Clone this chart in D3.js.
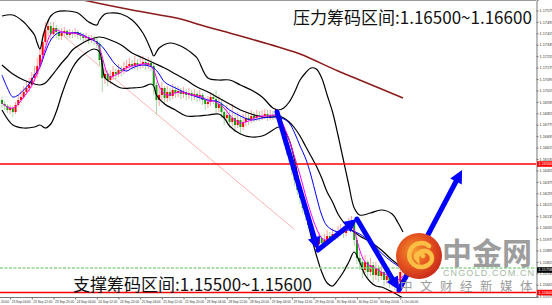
<!DOCTYPE html>
<html><head><meta charset="utf-8">
<script src="https://cdn.jsdelivr.net/npm/d3@7/dist/d3.min.js"></script>
<style>html,body{margin:0;padding:0;background:#fff;overflow:hidden}svg{display:block}</style>
</head><body>
<svg id="chart" width="552" height="305"></svg>
<script>
// ---------- DATA ----------
const firstOpen = 1.16948;
const closes = [
1.16920,1.16906,1.16878,1.16892,1.16864,1.16913,1.16948,1.16969,1.17004,1.17032,
1.17053,1.17102,1.17130,1.17186,1.17263,1.17354,1.17438,1.17466,1.17410,1.17452,
1.17424,1.17396,1.17417,1.17431,1.17403,1.17417,1.17410,1.17424,1.17403,1.17396,
1.17382,1.17389,1.17368,1.17375,1.17361,1.17340,1.17228,1.17102,1.17130,1.17088,
1.17116,1.17144,1.17130,1.17158,1.17151,1.17172,1.17186,1.17200,1.17186,1.17207,
1.17193,1.17200,1.17214,1.17193,1.17207,1.17186,1.17053,1.16948,1.16983,1.17032,
1.16962,1.17004,1.16976,1.17018,1.16997,1.17011,1.16990,1.17004,1.16983,1.16997,
1.16976,1.16990,1.16969,1.16983,1.16948,1.16920,1.16934,1.16969,1.16955,1.16892,
1.16920,1.16864,1.16822,1.16843,1.16794,1.16822,1.16773,1.16808,1.16759,1.16794,
1.16822,1.16808,1.16836,1.16822,1.16843,1.16829,1.16836,1.16850,1.16829,1.16843,
1.16836,1.16850,1.16822,1.16752,1.16668,1.16598,1.16542,1.16458,1.16388,1.16318,
1.16262,1.16192,1.16143,1.16073,1.16017,1.15968,1.15940,1.15982,1.15947,1.15968,
1.15996,1.15982,1.16010,1.15996,1.16024,1.16038,1.16017,1.16059,1.16080,1.16094,
1.15968,1.15842,1.15814,1.15758,1.15814,1.15744,1.15793,1.15723,1.15772,1.15716,
1.15744,1.15688,1.15716,1.15667,1.15688,1.15646,1.15674,1.15744,1.15758];
const highs = [
1.16969,1.16941,1.16920,1.16913,1.16906,1.16934,1.16983,1.17018,1.17046,1.17074,
1.17102,1.17144,1.17186,1.17242,1.17312,1.17410,1.17494,1.17508,1.17494,1.17494,
1.17473,1.17452,1.17452,1.17459,1.17445,1.17445,1.17438,1.17452,1.17438,1.17424,
1.17417,1.17417,1.17403,1.17403,1.17396,1.17382,1.17354,1.17242,1.17172,1.17158,
1.17158,1.17186,1.17172,1.17200,1.17186,1.17214,1.17228,1.17242,1.17228,1.17256,
1.17235,1.17242,1.17256,1.17242,1.17249,1.17235,1.17214,1.17074,1.17046,1.17074,
1.17046,1.17046,1.17032,1.17060,1.17046,1.17046,1.17032,1.17039,1.17025,1.17032,
1.17018,1.17025,1.17011,1.17018,1.16997,1.16969,1.16976,1.17004,1.16997,1.17018,
1.16983,1.16948,1.16892,1.16913,1.16878,1.16920,1.16864,1.16864,1.16843,1.16850,
1.16864,1.16857,1.16878,1.16864,1.16878,1.16871,1.16878,1.16885,1.16878,1.16878,
1.16871,1.16892,1.16878,1.16843,1.16766,1.16682,1.16612,1.16556,1.16472,1.16402,
1.16332,1.16276,1.16213,1.16157,1.16087,1.16038,1.15996,1.16024,1.16003,1.16010,
1.16038,1.16024,1.16052,1.16038,1.16066,1.16080,1.16066,1.16094,1.16122,1.16136,
1.16108,1.15982,1.15884,1.15842,1.15863,1.15828,1.15842,1.15814,1.15814,1.15793,
1.15786,1.15758,1.15758,1.15744,1.15730,1.15716,1.15716,1.15772,1.15800];
const lows = [
1.16892,1.16878,1.16857,1.16850,1.16829,1.16850,1.16899,1.16927,1.16955,1.16983,
1.17004,1.17032,1.17074,1.17102,1.17158,1.17242,1.17333,1.17396,1.17368,1.17382,
1.17382,1.17368,1.17368,1.17389,1.17375,1.17382,1.17382,1.17389,1.17375,1.17368,
1.17354,1.17361,1.17340,1.17347,1.17333,1.17312,1.17186,1.17004,1.17060,1.17046,
1.17060,1.17088,1.17095,1.17109,1.17116,1.17130,1.17144,1.17158,1.17158,1.17165,
1.17158,1.17165,1.17172,1.17158,1.17165,1.17151,1.16983,1.16843,1.16906,1.16948,
1.16920,1.16934,1.16941,1.16955,1.16962,1.16969,1.16955,1.16962,1.16948,1.16955,
1.16941,1.16948,1.16934,1.16941,1.16913,1.16878,1.16892,1.16906,1.16920,1.16857,
1.16864,1.16822,1.16773,1.16794,1.16752,1.16766,1.16724,1.16752,1.16710,1.16738,
1.16766,1.16773,1.16787,1.16794,1.16801,1.16801,1.16808,1.16815,1.16801,1.16808,
1.16808,1.16815,1.16794,1.16724,1.16633,1.16563,1.16500,1.16423,1.16346,1.16283,
1.16220,1.16157,1.16108,1.16038,1.15982,1.15926,1.15898,1.15919,1.15912,1.15926,
1.15940,1.15947,1.15961,1.15968,1.15975,1.15996,1.15982,1.15996,1.16038,1.16052,
1.15926,1.15800,1.15758,1.15702,1.15737,1.15702,1.15716,1.15674,1.15688,1.15674,
1.15688,1.15646,1.15660,1.15632,1.15639,1.15618,1.15611,1.15653,1.15716];

// indicator lines: [bar index, price]
const bbUpper = [[0,1.17536],[4,1.17543],[8,1.17494],[10,1.17452],[12,1.17403],[13,1.17347],[14,1.17305],[15,1.17382],[16,1.17452],[18,1.17536],[20,1.17564],[24,1.17571],[28,1.17557],[32,1.17494],[35,1.17473],[36,1.17508],[38,1.17550],[40,1.17557],[44,1.17550],[48,1.17508],[52,1.17417],[55,1.17298],[56,1.17256],[58,1.17312],[62,1.17347],[66,1.17326],[70,1.17277],[72,1.17242],[76,1.17102],[80,1.17088],[84,1.17088],[88,1.17053],[92,1.17018],[96,1.16969],[100,1.16892],[102,1.16878],[104,1.16892],[106,1.16934],[108,1.17004],[110,1.17088],[112,1.17137],[114,1.17172],[116,1.17165],[118,1.17102],[120,1.16983],[122,1.16864],[124,1.16703],[126,1.16528],[128,1.16353],[130,1.16192],[132,1.16143],[136,1.16157],[140,1.16178],[144,1.16150],[146,1.16094],[148,1.16024]];
const bbMiddle = [[0,1.17193],[4,1.17130],[8,1.17088],[12,1.17060],[14,1.17053],[16,1.17067],[18,1.17109],[20,1.17158],[22,1.17207],[24,1.17249],[26,1.17298],[28,1.17326],[32,1.17368],[36,1.17389],[40,1.17368],[44,1.17333],[48,1.17277],[52,1.17242],[56,1.17207],[60,1.17172],[64,1.17130],[68,1.17088],[72,1.17039],[76,1.17004],[80,1.16962],[84,1.16920],[88,1.16878],[92,1.16850],[96,1.16829],[100,1.16829],[102,1.16836],[104,1.16822],[106,1.16794],[108,1.16752],[110,1.16696],[112,1.16626],[114,1.16556],[116,1.16486],[118,1.16402],[120,1.16304],[122,1.16234],[124,1.16150],[126,1.16094],[128,1.16052],[130,1.16024],[132,1.15996],[136,1.15954],[140,1.15898],[144,1.15828],[148,1.15772]];
const bbLower = [[0,1.16878],[4,1.16773],[8,1.16752],[12,1.16759],[14,1.16773],[16,1.16752],[18,1.16780],[20,1.16864],[22,1.16983],[24,1.17088],[26,1.17172],[28,1.17228],[31,1.17277],[34,1.17305],[36,1.17284],[37,1.17193],[38,1.17102],[40,1.17074],[44,1.17032],[48,1.17032],[52,1.17039],[55,1.17060],[56,1.17046],[57,1.16983],[60,1.16920],[64,1.16878],[68,1.16836],[72,1.16836],[76,1.16843],[80,1.16850],[82,1.16822],[84,1.16766],[88,1.16710],[92,1.16689],[96,1.16696],[100,1.16738],[102,1.16759],[104,1.16738],[106,1.16668],[108,1.16528],[110,1.16332],[112,1.16164],[114,1.16003],[116,1.15863],[118,1.15744],[120,1.15667],[122,1.15646],[124,1.15688],[126,1.15744],[128,1.15814],[130,1.15884],[132,1.15814],[134,1.15723],[136,1.15674],[138,1.15646],[140,1.15639],[144,1.15604],[148,1.15562]];
const maBlue = [[0,1.17123],[2,1.17032],[4,1.16969],[6,1.16983],[8,1.17018],[10,1.17060],[12,1.17123],[14,1.17179],[16,1.17284],[18,1.17368],[20,1.17410],[22,1.17424],[24,1.17417],[28,1.17417],[32,1.17382],[36,1.17340],[38,1.17298],[40,1.17242],[42,1.17193],[44,1.17165],[46,1.17151],[48,1.17172],[52,1.17193],[56,1.17172],[58,1.17130],[60,1.17074],[64,1.17032],[68,1.16997],[72,1.16969],[76,1.16948],[80,1.16934],[84,1.16878],[88,1.16836],[92,1.16808],[96,1.16822],[100,1.16829],[102,1.16829],[104,1.16815],[106,1.16787],[108,1.16717],[110,1.16626],[112,1.16542],[114,1.16423],[116,1.16276],[118,1.16143],[120,1.16066],[124,1.16024],[128,1.16038],[132,1.16010],[136,1.15954],[140,1.15877],[144,1.15814],[148,1.15765]];
const maMagenta = [[0,1.16927],[2,1.16899],[4,1.16892],[6,1.16920],[8,1.16969],[10,1.17018],[12,1.17088],[14,1.17186],[16,1.17312],[18,1.17410],[20,1.17438],[22,1.17424],[24,1.17417],[26,1.17417],[28,1.17410],[30,1.17396],[32,1.17382],[34,1.17368],[36,1.17312],[37,1.17249],[38,1.17179],[39,1.17130],[40,1.17109],[42,1.17123],[44,1.17144],[46,1.17172],[48,1.17186],[50,1.17193],[52,1.17200],[54,1.17200],[56,1.17158],[57,1.17102],[58,1.17046],[60,1.16990],[62,1.16983],[64,1.16997],[66,1.17004],[68,1.16997],[70,1.16983],[72,1.16976],[74,1.16969],[76,1.16941],[78,1.16941],[80,1.16920],[82,1.16892],[84,1.16843],[86,1.16808],[88,1.16787],[90,1.16794],[92,1.16808],[94,1.16829],[96,1.16836],[98,1.16836],[100,1.16843],[102,1.16836],[104,1.16766],[106,1.16668],[108,1.16549],[110,1.16423],[112,1.16283],[114,1.16157],[116,1.16052],[118,1.15982],[120,1.15968],[122,1.15982],[124,1.16003],[126,1.16024],[128,1.16052],[129,1.16066],[130,1.16038],[131,1.15968],[132,1.15898],[134,1.15814],[136,1.15786],[138,1.15772],[140,1.15744],[142,1.15723],[144,1.15702],[146,1.15688],[148,1.15716]];
const maLong = [[0,1.17774],[16,1.17711],[30,1.17648],[48,1.17578],[66,1.17515],[72,1.17480],[88,1.17396],[102,1.17319],[110,1.17270],[124,1.17151],[132,1.17088],[148,1.16962]];
const trendLine = [[23,1.17392],[108,1.16041]];
const arrowPath = [[101.5,1.16864],[116.6,1.15898],[131.0,1.16115],[146.5,1.15618],[169.8,1.16458]];
const levels = [1.16500, 1.15600];
const askPrice = 1.15772;
const bidPrice = 1.15758;
const yTicks = [1.17575,1.17495,1.17415,1.17335,1.17255,1.17175,1.17095,1.17015,1.16935,1.16855,1.16775,1.16695,1.16615,1.16535,1.16455,1.16375,1.16295,1.16215,1.16135,1.16055,1.15975,1.15895,1.15815,1.15735,1.15655,1.15575];
const timeIdx = [-5,3,11,19,27,35,43,51,59,67,75,83,91,99,107,115,123,131,139,147];
const timeLabels = ["22 Sep 20:00","23 Sep 04:00","23 Sep 12:00","23 Sep 20:00","24 Sep 04:00","24 Sep 12:00","24 Sep 20:00","25 Sep 04:00","25 Sep 12:00","25 Sep 20:00","28 Sep 04:00","28 Sep 12:00","28 Sep 20:00","29 Sep 04:00","29 Sep 12:00","29 Sep 20:00","30 Sep 04:00","30 Sep 12:00","30 Sep 20:00","1 Oct 04:00"];
const topText = "压力筹码区间:1.16500~1.16600";
const bottomText = "支撑筹码区间:1.15500~1.15600";

// ---------- DRAW ----------
const svg = d3.select('#chart');
const PR = 536, PB = 297;
const x = d3.scaleLinear().domain([0,148]).range([2,403]);
const y = d3.scaleLinear().domain([1.17648,1.15569]).range([0,297]);
const CJK = '"Noto Sans CJK SC","Noto Sans",sans-serif';

const defs = svg.append('defs');
defs.append('clipPath').attr('id','plot').append('rect').attr('x',0).attr('y',0).attr('width',PR).attr('height',PB);
const grad = defs.append('radialGradient').attr('id','lg').attr('cx','40%').attr('cy','40%').attr('r','65%');
grad.append('stop').attr('offset','0%').attr('stop-color','#f59a2e');
grad.append('stop').attr('offset','55%').attr('stop-color','#e4531f');
grad.append('stop').attr('offset','100%').attr('stop-color','#c8281a');

const g = svg.append('g').attr('clip-path','url(#plot)');
const line = d3.line().x(d=>x(d[0])).y(d=>y(d[1])).curve(d3.curveCatmullRom.alpha(0.5));

// trend line (pale red)
g.append('path').datum(trendLine).attr('d', d3.line().x(d=>x(d[0])).y(d=>y(d[1])))
  .attr('stroke','#ffb3b3').attr('stroke-width',1).attr('fill','none');

// candles
const bars = closes.map((c,i)=>({i, o: i ? closes[i-1] : firstOpen, c, h: highs[i], l: lows[i]}));
g.selectAll('line.wick').data(bars).join('line').attr('class','wick')
  .attr('x1',d=>x(d.i)).attr('x2',d=>x(d.i)).attr('y1',d=>y(d.h)).attr('y2',d=>y(d.l))
  .attr('stroke',d=>d.c>=d.o?'#ffa0a0':'#a6d8a6').attr('stroke-width',1);
g.selectAll('rect.body').data(bars).join('rect').attr('class','body')
  .attr('x',d=>x(d.i)-1).attr('width',2)
  .attr('y',d=>y(Math.max(d.o,d.c))).attr('height',d=>Math.max(1,Math.abs(y(d.o)-y(d.c))))
  .attr('fill',d=>d.c>=d.o?'#ff0000':'#129a12');

// bands
[bbUpper,bbMiddle,bbLower].forEach(b=>{
  g.append('path').datum(b).attr('d',line).attr('fill','none').attr('stroke','#000').attr('stroke-width',1.2);
});
// long MA
g.append('path').datum(maLong).attr('d',line).attr('fill','none').attr('stroke','#8b1a1a').attr('stroke-width',1.5);
// MAs
g.append('path').datum(maBlue).attr('d',line).attr('fill','none').attr('stroke','#0000ff').attr('stroke-width',1);
g.append('path').datum(maMagenta).attr('d',line).attr('fill','none').attr('stroke','#ff00ff').attr('stroke-width',1);

// levels
g.selectAll('line.lvl').data(levels).join('line').attr('class','lvl')
  .attr('x1',0).attr('x2',PR).attr('y1',d=>y(d)).attr('y2',d=>y(d))
  .attr('stroke','#ff0000').attr('stroke-width',1.6);
// ask line
g.append('line').attr('x1',0).attr('x2',PR).attr('y1',y(askPrice)).attr('y2',y(askPrice))
  .attr('stroke','#8fd48f').attr('stroke-width',1.4).attr('stroke-dasharray','3,1.5');

// frame
svg.append('line').attr('x1',0).attr('x2',PR).attr('y1',0.5).attr('y2',0.5).attr('stroke','#999');
svg.append('line').attr('x1',0).attr('x2',PR+1).attr('y1',PB+0.5).attr('y2',PB+0.5).attr('stroke','#777');

// right axis
const ya = svg.append('g').attr('transform',`translate(${PR+0.5},0)`)
  .call(d3.axisRight(y).tickValues(yTicks).tickSize(2).tickPadding(1).tickFormat(d3.format('.5f')));
ya.select('.domain').attr('stroke','#777');
ya.selectAll('.tick line').attr('stroke','#777');
ya.selectAll('text').attr('font-size','3.8px').attr('font-family','Arial,"Liberation Sans",sans-serif').attr('fill','#333');

// bottom axis
const xa = svg.append('g').attr('transform',`translate(0,${PB+0.5})`)
  .call(d3.axisBottom(x).tickValues(timeIdx).tickSize(2).tickFormat((d,i)=>timeLabels[i]));
xa.select('.domain').remove();
xa.selectAll('.tick line').attr('stroke','#777');
xa.selectAll('text').attr('text-anchor','start').attr('x',1).attr('y',3).attr('dy','0.71em')
  .attr('font-size','3.2px').attr('font-family','Arial,"Liberation Sans",sans-serif').attr('fill','#333');

// price boxes on axis
const boxes = [{p:levels[0],c:'#ff0000'},{p:levels[1],c:'#ff0000'},{p:bidPrice,c:'#000'}];
const bx = svg.append('g');
boxes.forEach(b=>{
  bx.append('rect').attr('x',PR+1).attr('y',y(b.p)-2.8).attr('width',15).attr('height',5.6).attr('fill',b.c);
  bx.append('text').attr('x',PR+2.5).attr('y',y(b.p)+1.4).text(d3.format('.5f')(b.p))
    .attr('font-size','3.8px').attr('font-family','Arial,sans-serif').attr('fill','#fff');
});

// texts
svg.append('text').attr('x',293).attr('y',24).text(topText)
  .attr('font-family',CJK).attr('font-size','17px').attr('fill','#111');
svg.append('text').attr('x',73).attr('y',291).text(bottomText)
  .attr('font-family',CJK).attr('font-size','17px').attr('fill','#111');

// arrows
const ag = svg.append('g');
for (let k=0;k<arrowPath.length-1;k++){
  const p=[x(arrowPath[k][0]),y(arrowPath[k][1])], q=[x(arrowPath[k+1][0]),y(arrowPath[k+1][1])];
  const dx=q[0]-p[0], dy=q[1]-p[1], L=Math.hypot(dx,dy), ux=dx/L, uy=dy/L;
  const hl=13, hw=6.5;
  const bxp=q[0]-ux*hl, byp=q[1]-uy*hl;
  ag.append('line').attr('x1',p[0]).attr('y1',p[1]).attr('x2',bxp).attr('y2',byp)
    .attr('stroke','#0000ff').attr('stroke-width',5).attr('stroke-linecap','round');
  ag.append('polygon').attr('points',[[q[0],q[1]],[bxp-uy*hw,byp+ux*hw],[bxp+uy*hw,byp-ux*hw]].map(v=>v.join(',')).join(' '))
    .attr('fill','#0000ff');
}

// logo watermark
const lg = svg.append('g');
lg.append('circle').attr('cx',419).attr('cy',256).attr('r',23).attr('fill','url(#lg)');
lg.append('path').attr('d','M429,246 A12,12 0 1,0 431,262 A7.5,7.5 0 1,0 417,259 A3.5,3.5 0 1,1 423,256')
  .attr('fill','none').attr('stroke','#fbbf45').attr('stroke-width',4.5).attr('stroke-linecap','round');
lg.append('text').attr('x',442).attr('y',264).text('中金网')
  .attr('font-family',CJK).attr('font-weight','bold').attr('font-size','30px').attr('fill','#8c8c8c').attr('opacity',0.85);
lg.append('text').attr('x',443).attr('y',276).text('CNGOLD.COM.CN').attr('textLength',91)
  .attr('font-family','Arial,sans-serif').attr('font-size','9px').attr('fill','#a3b9a3');
lg.append('text').attr('x',400).attr('y',291).text('中文财经新媒体').attr('letter-spacing','7.5px')
  .attr('font-family',CJK).attr('font-size','12.5px').attr('fill','#9c9c9c');
</script>
</body></html>
